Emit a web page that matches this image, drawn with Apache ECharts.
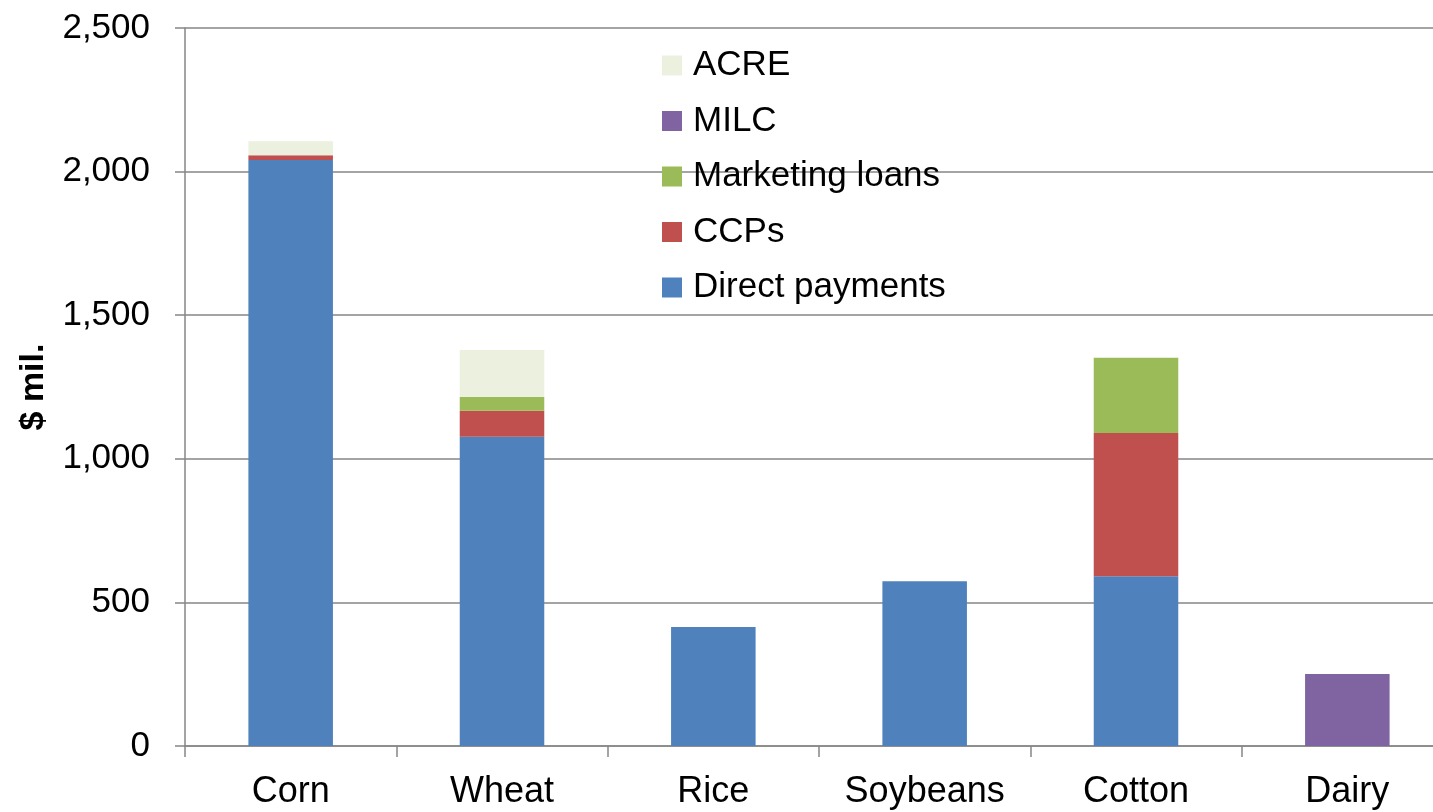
<!DOCTYPE html>
<html>
<head>
<meta charset="utf-8">
<script src="https://cdn.jsdelivr.net/npm/echarts@6/dist/echarts.min.js"></script>
<style>html,body{margin:0;padding:0;background:#fff;overflow:hidden;width:1433px;height:812px;}#c{width:1453px;height:812px;}</style>
</head>
<body>
<div id="c"></div>
<script>
const categories = ['Corn', 'Wheat', 'Rice', 'Soybeans', 'Cotton', 'Dairy'];
const directPayments = [2040, 1077, 414, 574, 591, 0];
const ccps = [17, 90, 0, 0, 499, 0];
const marketingLoans = [0, 48, 0, 0, 262, 0];
const milc = [0, 0, 0, 0, 0, 251];
const acre = [49, 164, 0, 0, 0, 0];
const legendOrder = ['ACRE', 'MILC', 'Marketing loans', 'CCPs', 'Direct payments'];

const font = 'Liberation Sans, Arial, sans-serif';
const chart = echarts.init(document.getElementById('c'));
function s(name, data, color) {
  return { name, type: 'bar', stack: 'total', data, barWidth: '40%',
    itemStyle: { color }, emphasis: { disabled: true } };
}
chart.setOption({
  animation: false,
  grid: { left: 185, top: 28, bottom: 66, right: 0, containLabel: false },
  legend: {
    orient: 'vertical', left: 657, top: 43, itemGap: 20.5,
    itemWidth: 20, itemHeight: 20, icon: 'rect',
    data: legendOrder,
    textStyle: { fontFamily: font, fontSize: 35, lineHeight: 35, color: '#000', padding: [0, 0, 0, 6] }
  },
  xAxis: {
    type: 'category', data: categories,
    axisLine: { lineStyle: { color: '#868686', width: 1.5 } },
    axisTick: { show: true, length: 11, lineStyle: { color: '#868686', width: 1.5 } },
    axisLabel: { fontFamily: font, fontSize: 36, color: '#000', margin: 28, interval: 0 }
  },
  yAxis: {
    type: 'value', min: 0, max: 2500, interval: 500,
    name: '$ mil.', nameLocation: 'middle', nameGap: 134, nameRotate: 90,
    nameTextStyle: { fontFamily: font, fontSize: 34, fontWeight: 'bold', color: '#000' },
    axisLine: { show: true, lineStyle: { color: '#868686', width: 1.5 } },
    axisTick: { show: true, inside: false, length: 10, lineStyle: { color: '#868686', width: 1.5 } },
    splitLine: { lineStyle: { color: '#868686', width: 1.5 } },
    axisLabel: { fontFamily: font, fontSize: 35, color: '#000', margin: 35,
      formatter: v => v.toLocaleString('en-US') }
  },
  series: [
    s('Direct payments', directPayments, '#4F81BD'),
    s('CCPs', ccps, '#C0504D'),
    s('Marketing loans', marketingLoans, '#9BBB59'),
    s('MILC', milc, '#8064A2'),
    s('ACRE', acre, '#EBF1DE')
  ]
});
</script>
</body>
</html>
